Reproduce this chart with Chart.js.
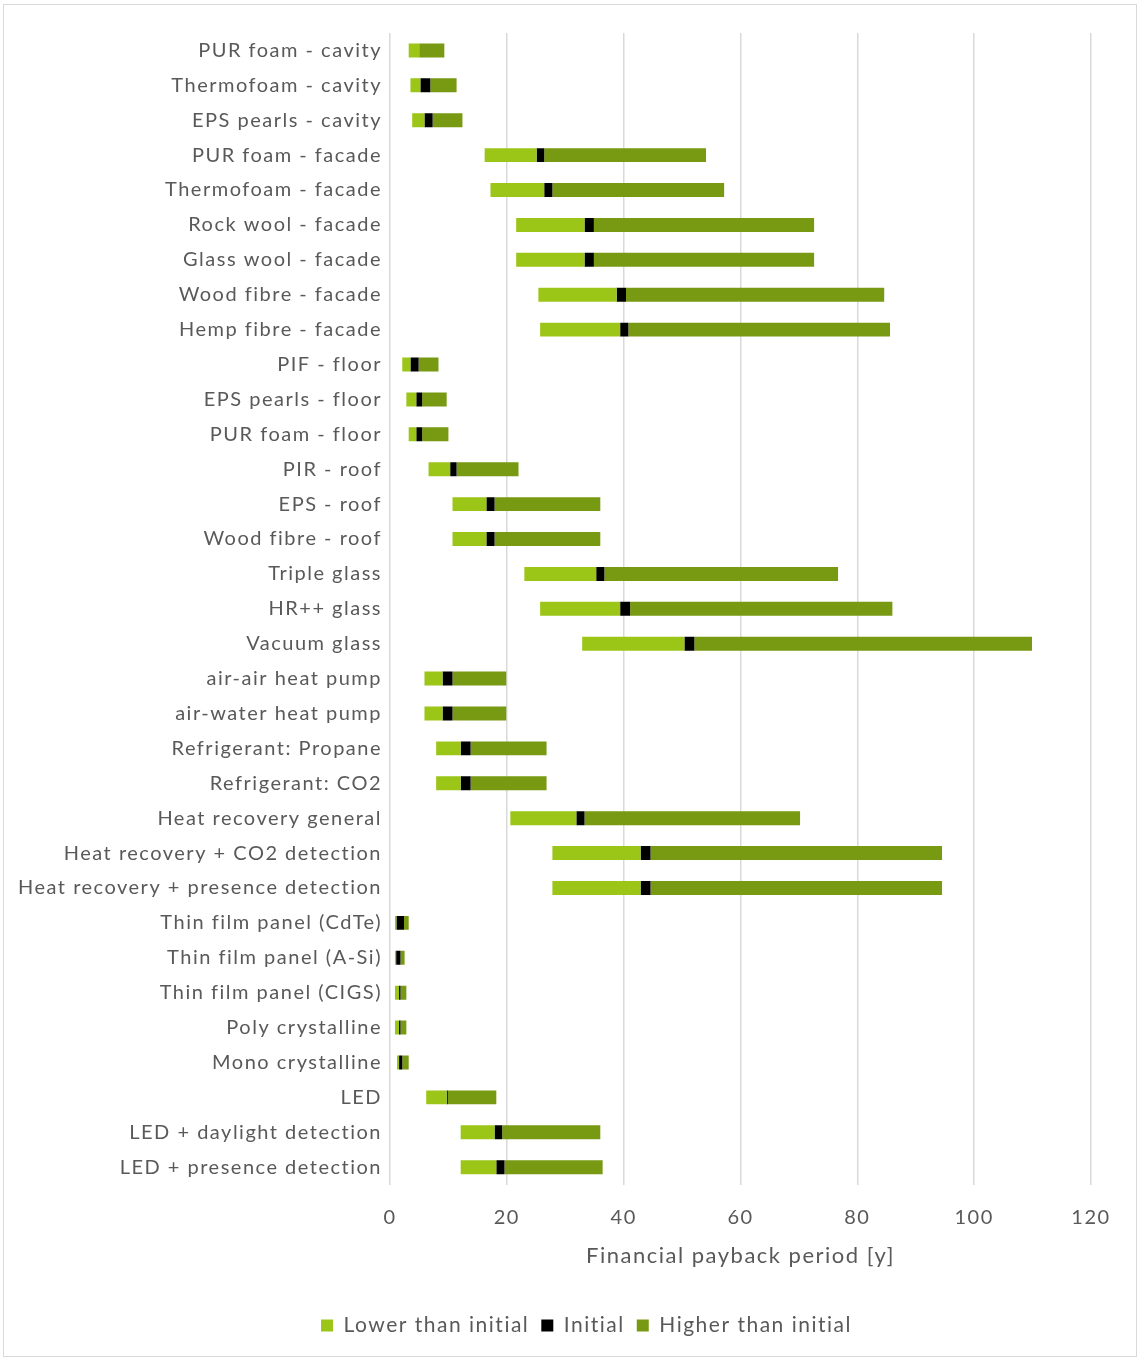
<!DOCTYPE html>
<html>
<head>
<meta charset="utf-8">
<script src="https://cdn.jsdelivr.net/npm/chart.js@4"></script>
<style>
  body { margin: 0; background: #fff; }
  #wrap { position: absolute; left: 0; top: 0; width: 1139px; height: 1359px; }
  #frame { position: absolute; left: 3px; top: 4px; width: 1132px; height: 1351px; border: 1px solid #d9d9d9; pointer-events: none; }
</style>
</head>
<body>
<div id="wrap"><canvas id="chart" width="1139" height="1359"></canvas></div>
<div id="frame"></div>
<script>
// payback period ranges per measure [years]
var labels = [
  'PUR foam - cavity', 'Thermofoam - cavity', 'EPS pearls - cavity',
  'PUR foam - facade', 'Thermofoam - facade', 'Rock wool - facade',
  'Glass wool - facade', 'Wood fibre - facade', 'Hemp fibre - facade',
  'PIF - floor', 'EPS pearls - floor', 'PUR foam - floor',
  'PIR - roof', 'EPS - roof', 'Wood fibre - roof',
  'Triple glass', 'HR++ glass', 'Vacuum glass',
  'air-air heat pump', 'air-water heat pump', 'Refrigerant: Propane', 'Refrigerant: CO2',
  'Heat recovery general', 'Heat recovery + CO2 detection', 'Heat recovery + presence detection',
  'Thin film panel (CdTe)', 'Thin film panel (A-Si)', 'Thin film panel (CIGS)',
  'Poly crystalline', 'Mono crystalline',
  'LED', 'LED + daylight detection', 'LED + presence detection'
];
var lowStart  = [3.2, 3.5, 3.8, 16.2, 17.2, 21.6, 21.6, 25.4, 25.7, 2.1, 2.8, 3.2, 6.6, 10.7, 10.7, 23.0, 25.7, 32.9, 5.9, 5.9, 7.9, 7.9, 20.6, 27.8, 27.8, 0.85, 0.85, 0.85, 0.85, 1.2, 6.2, 12.1, 12.1];
var initStart = [5.0, 5.2, 5.9, 25.1, 26.4, 33.3, 33.3, 38.8, 39.4, 3.5, 4.5, 4.5, 10.3, 16.5, 16.5, 35.3, 39.4, 50.4, 9.0, 9.0, 12.1, 12.1, 31.9, 42.9, 42.9, 1.1, 1.05, 1.55, 1.55, 1.55, 9.7, 17.9, 18.2];
var initEnd   = [5.0, 6.9, 7.3, 26.4, 27.8, 34.9, 34.9, 40.4, 40.8, 4.9, 5.5, 5.5, 11.4, 17.9, 17.9, 36.7, 41.1, 52.1, 10.7, 10.7, 13.8, 13.8, 33.3, 44.6, 44.6, 2.4, 1.8, 1.8, 1.8, 2.1, 9.9, 19.2, 19.6];
var highEnd   = [9.3, 11.4, 12.4, 54.1, 57.2, 72.6, 72.6, 84.6, 85.6, 8.3, 9.7, 10.0, 22.0, 36.0, 36.0, 76.7, 86.0, 109.9, 19.9, 19.9, 26.8, 26.8, 70.2, 94.5, 94.5, 3.2, 2.5, 2.8, 2.8, 3.2, 18.2, 36.0, 36.4];
var xTicks = [0, 20, 40, 60, 80, 100, 120];

function pairs(a, b) {
  return a.map(function (v, i) { return [v, b[i]]; });
}

var txt = '#595959';
Chart.defaults.font.family = "Lato, 'Open Sans', sans-serif";
Chart.defaults.color = txt;

// the original text is spaced out a bit, and its legend sits a little right of centre
var tweaks = {
  id: 'tweaks',
  beforeUpdate: function (chart) { chart.ctx.letterSpacing = '1.5px'; },
  afterLayout: function (chart) { chart.legend.left += 36; chart.legend.right += 36; },
  beforeDraw: function (chart) { chart.ctx.letterSpacing = '1.5px'; }
};

new Chart(document.getElementById('chart').getContext('2d'), {
  type: 'bar',
  plugins: [tweaks],
  data: {
    labels: labels,
    datasets: [
      { label: 'Lower than initial', data: pairs(lowStart, initStart), backgroundColor: '#9bc617', grouped: false },
      { label: 'Initial', data: pairs(initStart, initEnd), backgroundColor: '#000000', grouped: false },
      { label: 'Higher than initial', data: pairs(initEnd, highEnd), backgroundColor: '#789912', grouped: false }
    ]
  },
  options: {
    indexAxis: 'y',
    responsive: false,
    animation: false,
    devicePixelRatio: 1,
    layout: { padding: { left: 10, right: 48, top: 33, bottom: 13 } },
    categoryPercentage: 1,
    barPercentage: 0.4,
    scales: {
      x: {
        min: 0, max: 120,
        afterBuildTicks: function (s) { s.ticks = xTicks.map(function (v) { return { value: v }; }); },
        grid: { color: '#d9d9d9', lineWidth: 1.5, drawTicks: false },
        border: { display: false },
        ticks: { font: { size: 20 }, padding: 21, color: txt },
        title: { display: true, text: 'Financial payback period [y]', font: { size: 22 }, color: txt, padding: { top: -8, bottom: 34 } }
      },
      y: {
        grid: { display: false },
        border: { display: false },
        ticks: { font: { size: 20 }, color: txt, padding: 0, autoSkip: false },
        afterFit: function (s) { s.width = 380; }
      }
    },
    plugins: {
      legend: {
        position: 'bottom',
        labels: { boxWidth: 12, boxHeight: 12, font: { size: 21 }, color: txt, padding: 12 }
      },
      tooltip: { enabled: false }
    }
  }
});
</script>
</body>
</html>
